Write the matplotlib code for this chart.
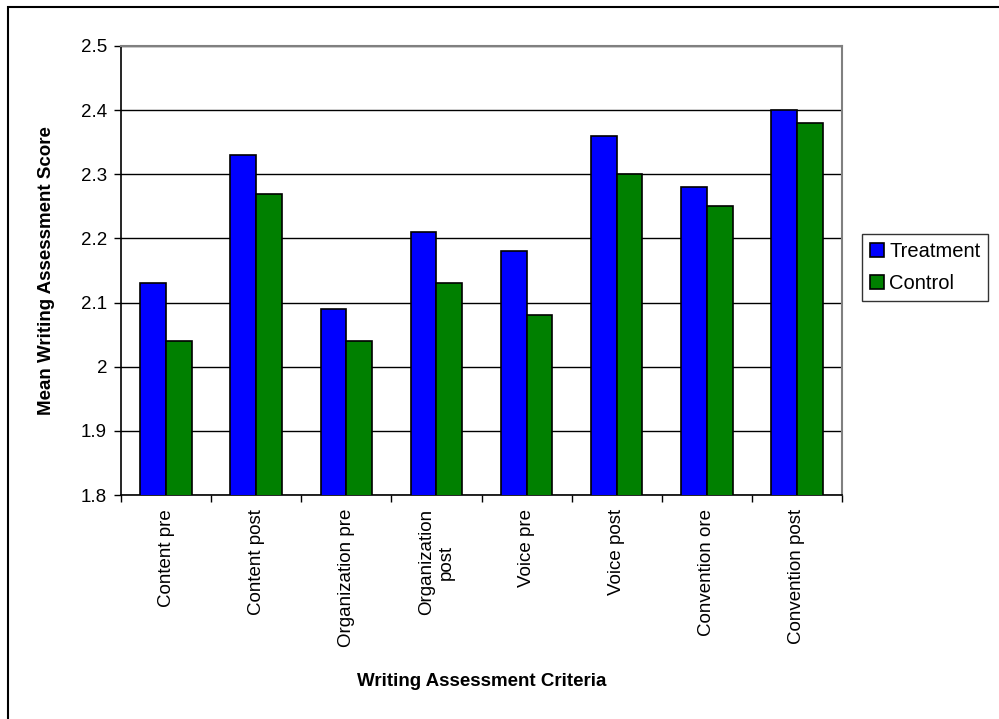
import numpy as np
import matplotlib.pyplot as plt
from matplotlib.patches import Rectangle

plt.rcParams['font.family'] = ['Liberation Sans', 'DejaVu Sans']

categories = ['Content pre', 'Content post', 'Organization pre', 'Organization\npost',
              'Voice pre', 'Voice post', 'Convention ore', 'Convention post']
treatment = [2.13, 2.33, 2.09, 2.21, 2.18, 2.36, 2.28, 2.40]
control = [2.04, 2.27, 2.04, 2.13, 2.08, 2.30, 2.25, 2.38]
y_ticks = [1.8, 1.9, 2.0, 2.1, 2.2, 2.3, 2.4, 2.5]
y_labels = ['1.8', '1.9', '2', '2.1', '2.2', '2.3', '2.4', '2.5']

W, H = 999, 719
fig = plt.figure(figsize=(W / 100, H / 100), dpi=100)
# plot area in pixels: left 121, right 842, top 46, bottom 495
ax = fig.add_axes([121 / W, 1 - 495 / H, (842 - 121) / W, (495 - 46) / H])

x = np.arange(len(categories))
bw = 0.2857
ax.bar(x - bw / 2, treatment, bw, color='#0000ff', edgecolor='black',
       linewidth=1.2, label='Treatment', zorder=3)
ax.bar(x + bw / 2, control, bw, color='#008000', edgecolor='black',
       linewidth=1.2, label='Control', zorder=3)

ax.set_ylim(1.8, 2.5)
ax.set_xlim(-0.5, len(categories) - 0.5)
ax.set_yticks(y_ticks)
ax.set_yticklabels(y_labels, fontsize=13.5)
ax.yaxis.grid(True, color='black', linewidth=1, zorder=0)

# category labels sit between the boundary ticks
ax.set_xticks(np.arange(len(categories) + 1) - 0.5)
ax.set_xticklabels([])
ax.set_xticks(x, minor=True)
ax.set_xticklabels(categories, minor=True, rotation=90, fontsize=13.5,
                   ha='center', va='top', multialignment='center')
ax.tick_params(axis='x', which='minor', length=0, pad=10)
ax.tick_params(axis='x', which='major', length=5, direction='out', width=1)
ax.tick_params(axis='y', length=5, direction='out', width=1, pad=5)

for side in ['top', 'right']:
    ax.spines[side].set_color('#808080')
    ax.spines[side].set_linewidth(1.5)
ax.spines['left'].set_linewidth(1.2)
ax.spines['bottom'].set_linewidth(1.2)

fig.text(47 / W, 1 - ((46 + 495) / 2) / H, 'Mean Writing Assessment Score',
         fontsize=13.5, fontweight='bold', rotation=90, ha='center', va='center')
fig.text((121 + 842) / 2 / W, 1 - 682 / H, 'Writing Assessment Criteria',
         fontsize=13.5, fontweight='bold', ha='center', va='center')

leg = fig.legend(loc='upper left', bbox_to_anchor=(862 / W, 1 - 234 / H),
                 fontsize=14.5, frameon=True, fancybox=False, edgecolor='black',
                 handlelength=0.7, handleheight=0.7, handletextpad=0.25,
                 borderaxespad=0, labelspacing=0.65, borderpad=0.4)
leg.get_frame().set_linewidth(1)

fig.patches.append(Rectangle((8 / W, -0.01), 1.0, 1 - 7 / H + 0.01,
                             transform=fig.transFigure, fill=False,
                             edgecolor='black', linewidth=1.5))

fig.savefig('out.png', dpi=100)
